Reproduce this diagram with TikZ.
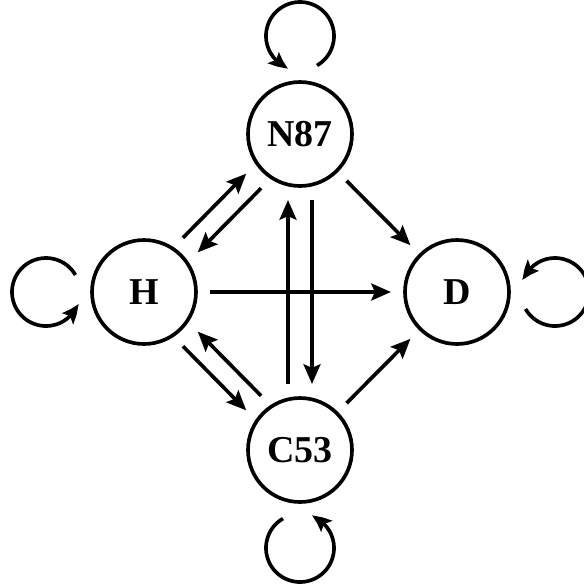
\documentclass[tikz,border=0pt]{standalone}
\usepackage{fontspec}
\setmainfont{Liberation Serif}
\usetikzlibrary{arrows.meta,calc,bending}
\tikzset{
  state/.style={circle,draw,line width=2.6pt,minimum size=2.6cm,inner sep=0pt,
    font=\fontsize{27}{32}\selectfont\bfseries},
  link/.style={-{Stealth[length=14pt,width=12pt,inset=2.5pt]},line width=2.6pt,
    shorten <=1.65cm,shorten >=1.65cm},
  selfloop/.style={-{Stealth[length=13pt,width=11pt,inset=2.5pt,bend]},line width=2.6pt}
}
\begin{document}
\begin{tikzpicture}
  \useasboundingbox (0,0) rectangle (14.6,-14.625);
  % states
  \node[state] (n87) at (7.5,-3.35) {N87};
  \node[state] (h) at (3.6,-7.3) {H};
  \node[state] (d) at (11.425,-7.3) {D};
  \node[state] (c53) at (7.5,-11.25) {C53};
  % centres of the self loops
  \coordinate (n87loop) at ($(n87)+(0,2.45)$);
  \coordinate (hloop) at ($(h)+(-2.45,0)$);
  \coordinate (dloop) at ($(d)+(2.45,0)$);
  \coordinate (c53loop) at ($(c53)+(0,-2.45)$);
  % self loops
  \draw[selfloop] ([shift={(300:0.85)}]n87loop) arc[start angle=300,end angle=610,radius=0.85];
  \draw[selfloop] ([shift={(30:0.85)}]hloop) arc[start angle=30,end angle=340,radius=0.85];
  \draw[selfloop] ([shift={(210:0.85)}]dloop) arc[start angle=210,end angle=520,radius=0.85];
  \draw[selfloop] ([shift={(120:0.85)}]c53loop) arc[start angle=120,end angle=430,radius=0.85];
  % transitions
  \draw[link] ($(h)!0.26cm!90:(n87)$) -- ($(n87)!0.26cm!-90:(h)$);
  \draw[link] ($(n87)!0.26cm!90:(h)$) -- ($(h)!0.26cm!-90:(n87)$);
  \draw[link] ($(h)!0.26cm!-90:(c53)$) -- ($(c53)!0.26cm!90:(h)$);
  \draw[link] ($(c53)!0.26cm!-90:(h)$) -- ($(h)!0.26cm!90:(c53)$);
  \draw[link] ($(n87)!0.3cm!90:(c53)$) -- ($(c53)!0.3cm!-90:(n87)$);
  \draw[link] ($(c53)!0.3cm!90:(n87)$) -- ($(n87)!0.3cm!-90:(c53)$);
  \draw[link] (h.center) -- (d.center);
  \draw[link] (n87.center) -- (d.center);
  \draw[link] (c53.center) -- (d.center);
\end{tikzpicture}
\end{document}
